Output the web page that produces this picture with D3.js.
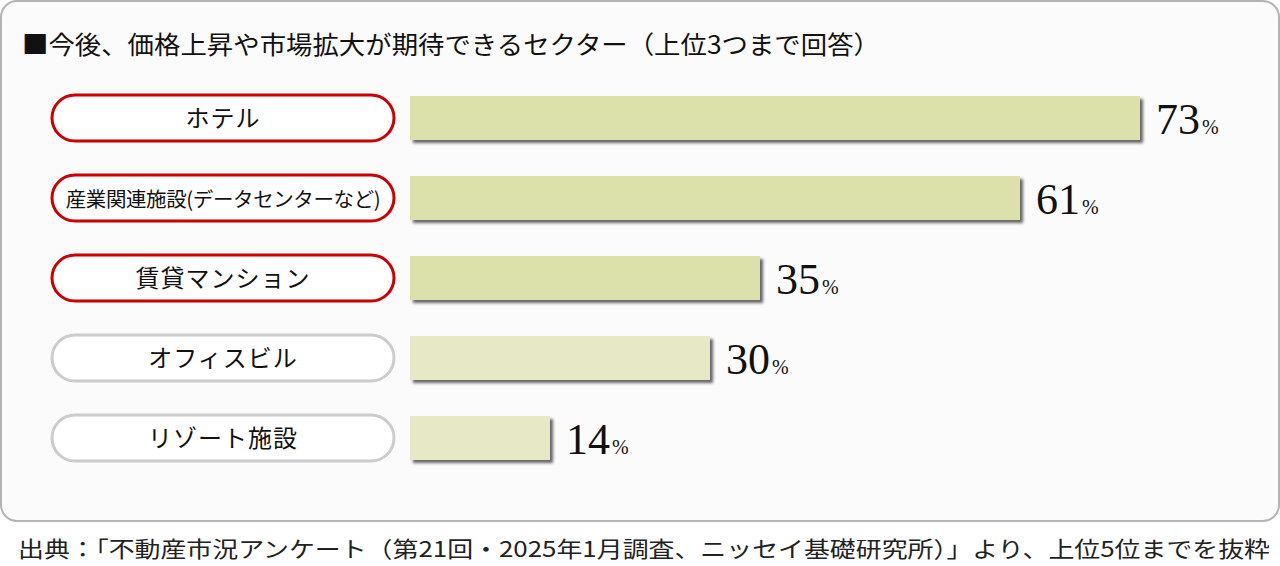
<!DOCTYPE html>
<meta charset="utf-8">
<head>
    <title>期待できるセクター</title>
</head>
<style>
body { margin: 0; background: #fff; }
text { font-family: "Noto Sans CJK JP", "Noto Sans", sans-serif; }
.val { font-family: "Liberation Serif", "DejaVu Serif", serif; }
</style>

<script src="https://d3js.org/d3.v7.min.js"></script>

<div id="chart"></div>

<script>
// data
var sectors = ["ホテル", "産業関連施設(データセンターなど)", "賃貸マンション", "オフィスビル", "リゾート施設"];
var shares = [73, 61, 35, 30, 14];
var highlighted = [true, true, true, false, false];   // top 3 are outlined in red

var title = "■今後、価格上昇や市場拡大が期待できるセクター（上位3つまで回答）";
var source = "出典：「不動産市況アンケート（第21回・2025年1月調査、ニッセイ基礎研究所）」より、上位5位までを抜粋";

var W = 1280, H = 566;

var svg = d3.select("#chart")
  .append("svg")
    .attr("width", W)
    .attr("height", H);

// drop shadow for bars
var defs = svg.append("defs");
defs.append("filter")
    .attr("id", "shadow")
    .attr("x", "-5%").attr("y", "-20%")
    .attr("width", "110%").attr("height", "150%")
  .append("feDropShadow")
    .attr("dx", 3).attr("dy", 3)
    .attr("stdDeviation", 1.6)
    .attr("flood-color", "#333")
    .attr("flood-opacity", 0.75);

// panel
svg.append("rect")
    .attr("x", 1).attr("y", 1)
    .attr("width", W - 2).attr("height", 520)
    .attr("rx", 16)
    .attr("fill", "#fbfbfb")
    .attr("stroke", "#b4b4b4")
    .attr("stroke-width", 2);

svg.append("text")
    .attr("x", 22).attr("y", 54)
    .attr("font-size", 25)
    .attr("fill", "#111")
    .attr("textLength", 858)
    .attr("lengthAdjust", "spacingAndGlyphs")
    .text(title);

// scales
var x = d3.scaleLinear()
    .domain([0, 100])
    .range([410, 1410]);

var y = d3.scalePoint()
    .domain(sectors)
    .range([118, 438]);

var barH = 46;
var rows = sectors.map(function(s, i) { return {name: s, value: shares[i], hi: highlighted[i]}; });

var row = svg.selectAll(".row")
    .data(rows)
    .enter()
  .append("g")
    .attr("class", "row")
    .attr("transform", function(d) { return "translate(0," + y(d.name) + ")"; });

// label pills
row.append("rect")
    .attr("x", 52).attr("y", -barH / 2)
    .attr("width", 342).attr("height", barH)
    .attr("rx", 23)
    .attr("fill", "#fff")
    .attr("stroke", function(d) { return d.hi ? "#cc0000" : "#cccccc"; })
    .attr("stroke-width", 3);

row.append("text")
    .attr("x", 223)
    .attr("y", 8.5)
    .attr("text-anchor", "middle")
    .attr("font-size", function(d) { return d.name.length > 10 ? 20.5 : 24; })
    .attr("letter-spacing", function(d) { return d.name.length > 10 ? -0.4 : 1; })
    .attr("fill", "#111")
    .text(function(d) { return d.name; });

// bars
row.append("rect")
    .attr("x", x(0))
    .attr("y", -barH / 2 + 1)
    .attr("width", function(d) { return x(d.value) - x(0); })
    .attr("height", barH - 2)
    .attr("fill", function(d) { return d.hi ? "#dce0aa" : "#e6e8c6"; })
    .attr("filter", "url(#shadow)");

// values
var val = row.append("text")
    .attr("class", "val")
    .attr("x", function(d) { return x(d.value) + 16; })
    .attr("y", 16)
    .attr("fill", "#111");
val.append("tspan")
    .attr("font-size", 44)
    .text(function(d) { return d.value; });
val.append("tspan")
    .attr("font-size", 20)
    .attr("dx", 2)
    .text("%");

// source
svg.append("text")
    .attr("x", 18).attr("y", 557)
    .attr("font-size", 22)
    .attr("fill", "#222")
    .attr("textLength", 1252)
    .attr("lengthAdjust", "spacingAndGlyphs")
    .text(source);
</script>
